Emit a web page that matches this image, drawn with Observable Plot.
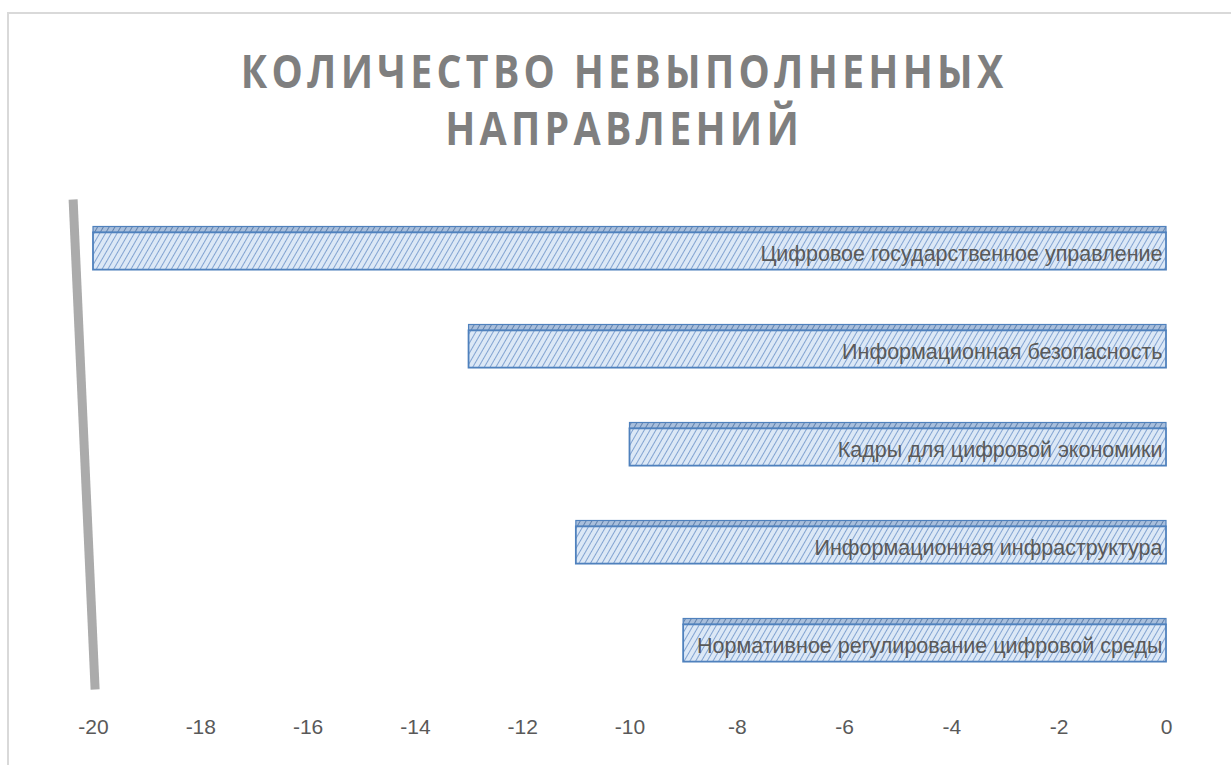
<!DOCTYPE html>
<html>
<head>
<meta charset="utf-8">
<script src="https://cdn.jsdelivr.net/npm/d3@7"></script>
<script src="https://cdn.jsdelivr.net/npm/@observablehq/plot@0.6"></script>
<style>
  html, body { margin: 0; padding: 0; background: #fff; }
  #frame { position: absolute; left: 0; top: 0; width: 1231px; height: 765px; overflow: hidden; }
  #border { position: absolute; left: 7px; top: 12px; width: 1230px; height: 760px;
            border-left: 2px solid #d9d9d9; border-top: 2px solid #d9d9d9; }
  #title { position: absolute; left: 0; top: 42px; width: 1248px; text-align: center;
           font-family: "Open Sans", sans-serif; font-weight: bold;
           font-size: 46px; line-height: 57px; letter-spacing: 5px; color: #7f7f7f;
           transform: scaleX(0.855); transform-origin: 625px 0; }
  #chart { position: absolute; left: 0; top: 165px; }
</style>
</head>
<body>
<div id="frame">
  <div id="border"></div>
  <div id="title">КОЛИЧЕСТВО НЕВЫПОЛНЕННЫХ<br>НАПРАВЛЕНИЙ</div>
  <div id="chart"></div>
</div>
<script>
const categories = [
  "Цифровое государственное управление",
  "Информационная безопасность",
  "Кадры для цифровой экономики",
  "Информационная инфраструктура",
  "Нормативное регулирование цифровой среды"
];
const values = [-20, -13, -10, -11, -9];
const xTicks = [-20, -18, -16, -14, -12, -10, -8, -6, -4, -2, 0];
// slanted grey back wall of the 3D chart: [x, y-index] at top and bottom
const wall = [[-20.38, -0.53], [-19.97, 4.47]];

const data = categories.map((c, i) => ({ cat: c, i, v: values[i] }));
const half = 0.19, topFace = 0.06;

const chart = Plot.plot({
  width: 1231,
  height: 600,
  marginLeft: 93,
  marginRight: 65,
  marginTop: 37,
  marginBottom: 73,
  style: { fontFamily: "'Liberation Sans', Arial, sans-serif", overflow: "visible" },
  x: { domain: [-20, 0], ticks: xTicks, tickFormat: d => String(d), label: null },
  y: { domain: [-0.5, 4.5], reverse: true, axis: null },
  marks: [
    Plot.link([wall], { x1: d => d[0][0], y1: d => d[0][1], x2: d => d[1][0], y2: d => d[1][1],
      stroke: "#ababab", strokeWidth: 9 }),
    // top face of each 3D bar
    Plot.rectX(data, { x1: 0, x2: "v", y1: d => d.i - half - topFace, y2: d => d.i - half,
      fill: "url(#hatchTop)", stroke: "#4f81bd", strokeWidth: 1.2 }),
    // front face
    Plot.rectX(data, { x1: 0, x2: "v", y1: d => d.i - half, y2: d => d.i + half,
      fill: "url(#hatch)", stroke: "#4f81bd", strokeWidth: 1.8 }),
    Plot.text(data, { x: 0, y: "i", text: "cat", textAnchor: "end", dx: -4, dy: 3,
      fill: "#595959", fontSize: 21.5 }),
    Plot.axisX({ ticks: xTicks, tickFormat: d => String(d), tickSize: 0, tickPadding: 27,
      fontSize: 21, fill: "#595959", anchor: "bottom", label: null })
  ]
});

const ns = "http://www.w3.org/2000/svg";
const defs = document.createElementNS(ns, "defs");
defs.innerHTML = `
  <pattern id="hatch" patternUnits="userSpaceOnUse" width="5" height="5" patternTransform="rotate(30)">
    <rect width="5" height="5" fill="#dce8f6"/>
    <line x1="0" y1="0" x2="0" y2="5" stroke="#5b86c1" stroke-width="1.4"/>
  </pattern>
  <pattern id="hatchTop" patternUnits="userSpaceOnUse" width="5" height="5" patternTransform="rotate(30)">
    <rect width="5" height="5" fill="#a9bfdc"/>
    <line x1="0" y1="0" x2="0" y2="5" stroke="#4a6f9f" stroke-width="1.5"/>
  </pattern>`;
chart.insertBefore(defs, chart.firstChild);
document.getElementById("chart").appendChild(chart);
</script>
</body>
</html>
